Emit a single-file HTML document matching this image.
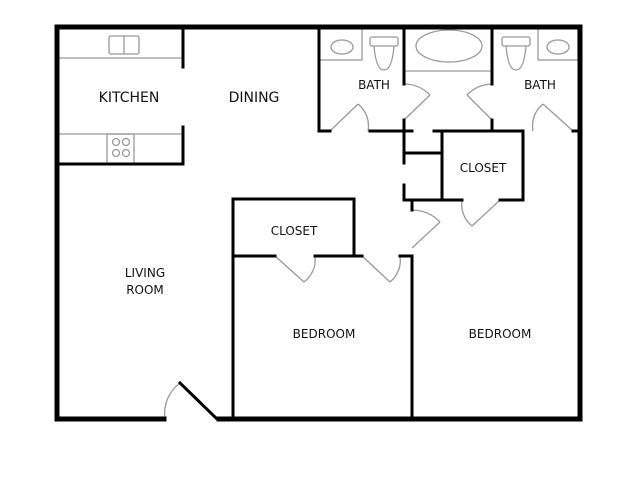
<!DOCTYPE html>
<html><head><style>body{margin:0;background:#fff}svg{display:block}text{font-family:"DejaVu Sans","Liberation Sans",sans-serif;fill:#111;text-anchor:middle}</style></head><body>
<svg width="640" height="480" viewBox="0 0 640 480">
<g stroke="#999" stroke-width="1.3" fill="none">
<line x1="58" y1="58" x2="183" y2="58"/><line x1="58" y1="134" x2="183" y2="134"/>
<rect x="109" y="36" width="30" height="18" rx="2"/><line x1="124" y1="36" x2="124" y2="54"/>
<rect x="107" y="134" width="27" height="30"/>
<circle cx="116" cy="142" r="3.5"/><circle cx="126" cy="142" r="3.5"/><circle cx="116" cy="153" r="3.5"/><circle cx="126" cy="153" r="3.5"/>
<rect x="319" y="27" width="43" height="33"/><ellipse cx="342" cy="47" rx="11" ry="7"/>
<rect x="370" y="37" width="28" height="9" rx="2"/><path d="M374 46 Q376 70 384 70 Q392 70 394 46"/>
<line x1="404" y1="71" x2="492" y2="71"/><ellipse cx="449" cy="46" rx="33" ry="16"/>
<rect x="502" y="37" width="28" height="9" rx="2"/><path d="M506 46 Q508 70 516 70 Q524 70 526 46"/>
<rect x="538" y="27" width="40" height="33"/><ellipse cx="558" cy="47" rx="11" ry="7"/>
<line x1="330" y1="131" x2="358" y2="104"/><path d="M358 104 A28 28 0 0 1 368 131"/>
<line x1="404" y1="120" x2="430" y2="95"/><path d="M404 84 A36 36 0 0 1 430 95"/>
<line x1="492" y1="120" x2="467" y2="95"/><path d="M492 84 A36 36 0 0 0 467 95"/>
<line x1="573" y1="131" x2="543" y2="104"/><path d="M543 104 A28 28 0 0 0 533 131"/>
<line x1="500" y1="200" x2="472" y2="226"/><path d="M472 226 A28 28 0 0 1 462 200"/>
<line x1="412" y1="248" x2="440" y2="222"/><path d="M440 222 A38 38 0 0 0 412 210"/>
<line x1="275" y1="256" x2="304" y2="282"/><path d="M304 282 A28 28 0 0 0 315 256"/>
<line x1="362" y1="256" x2="390" y2="282"/><path d="M390 282 A28 28 0 0 0 400 256"/>
<path d="M165 419 A38 38 0 0 1 180 383"/>
</g>
<g stroke="#000" stroke-width="5" fill="none" stroke-linecap="square">
<path d="M57 419 V27 H580 V419 H219"/><line x1="57" y1="419" x2="164" y2="419"/>
</g>
<g stroke="#000" stroke-width="3" fill="none" stroke-linecap="square">
<line x1="180" y1="383" x2="216" y2="418"/>
<path d="M183 27 V67"/><path d="M183 127 V164 H57"/>
<path d="M319 27 V131 H330"/><path d="M370 131 H412"/>
<path d="M404 27 V84"/><path d="M404 120 V163"/><path d="M404 153 H442"/>
<path d="M404 185 V200 H442"/>
<path d="M492 27 V84"/><path d="M492 120 V131"/>
<path d="M434 131 H523 V200 H500"/><path d="M442 131 V200 H462"/>
<path d="M578 131 H573"/>
<path d="M233 419 V199 H354 V256"/><path d="M233 256 H275"/><path d="M315 256 H362"/><path d="M400 256 H412 V419"/>
<path d="M412 200 V210"/>
</g>
<text x="129" y="102" font-size="14">KITCHEN</text>
<text x="254" y="102" font-size="14">DINING</text>
<text x="374" y="89" font-size="12">BATH</text>
<text x="540" y="89" font-size="12">BATH</text>
<text x="483" y="172" font-size="12">CLOSET</text>
<text x="294" y="235" font-size="12">CLOSET</text>
<text x="145" y="277" font-size="12">LIVING</text>
<text x="145" y="294" font-size="12">ROOM</text>
<text x="324" y="338" font-size="12">BEDROOM</text>
<text x="500" y="338" font-size="12">BEDROOM</text>
</svg>
</body></html>
